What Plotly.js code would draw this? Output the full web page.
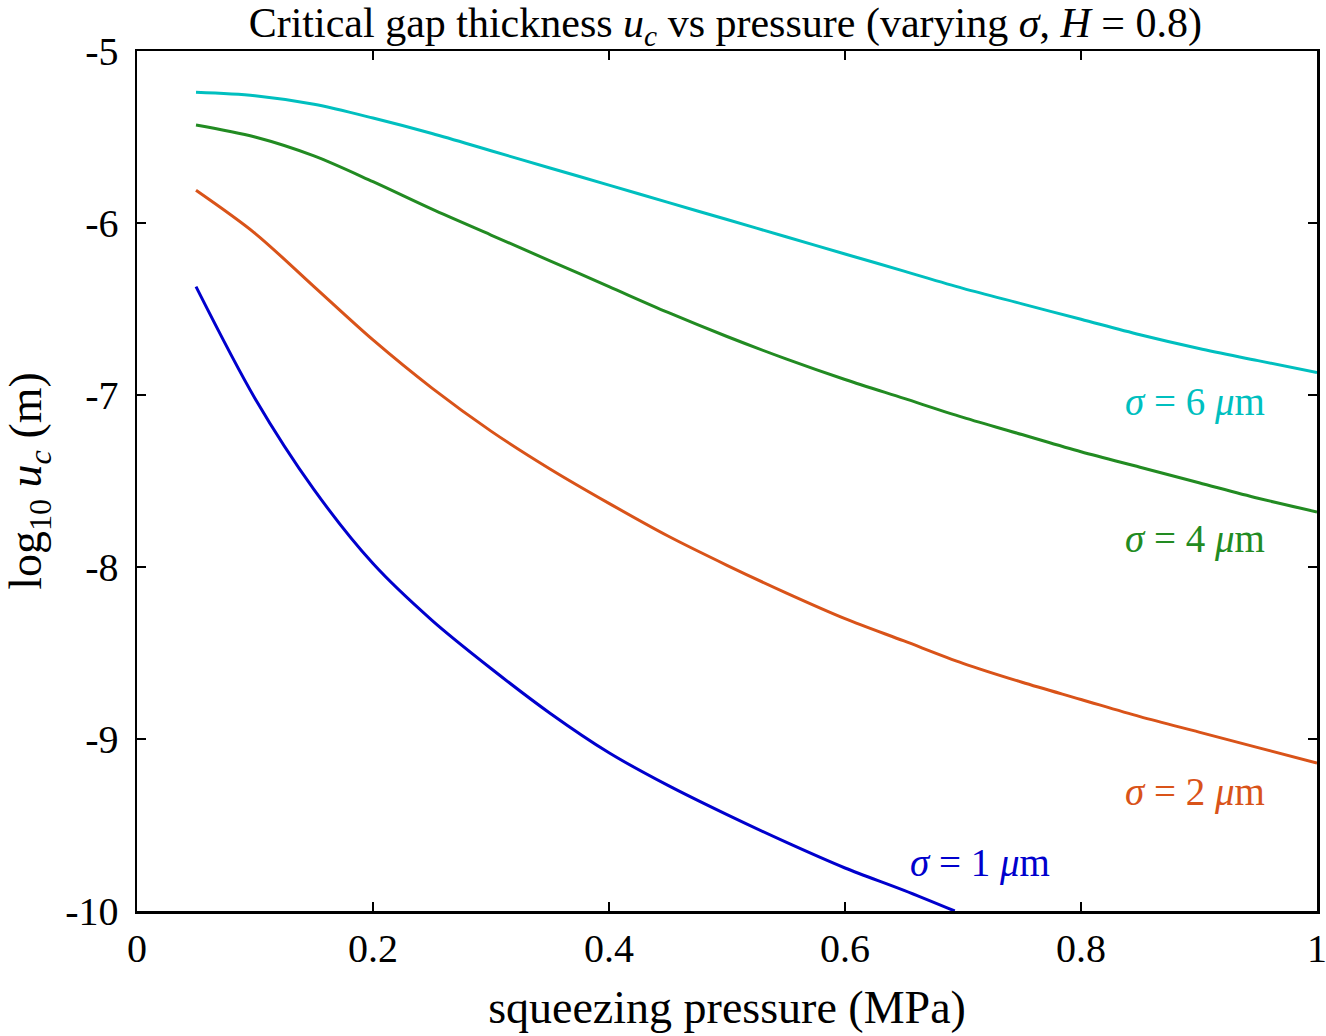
<!DOCTYPE html>
<html>
<head>
<meta charset="utf-8">
<script src="https://cdn.plot.ly/plotly-3.0.1.min.js"></script>
<style>html,body{margin:0;padding:0;background:#fff;}#chart{width:1326px;height:1036px;}</style>
</head>
<body>
<div id="chart"></div>
<script>
// squeezing pressure (MPa)
const pressure = [0.05, 0.1, 0.15, 0.2, 0.25, 0.3, 0.35, 0.4, 0.45, 0.5, 0.55, 0.6, 0.65, 0.7, 0.75, 0.8, 0.85, 0.9, 0.95, 1.0];
const pressureS1 = [0.05, 0.1, 0.15, 0.2, 0.25, 0.3, 0.35, 0.4, 0.45, 0.5, 0.55, 0.6, 0.65, 0.693];

// log10 u_c (m)
const sigma6 = [-5.24, -5.26, -5.31, -5.39, -5.48, -5.58, -5.68, -5.78, -5.88, -5.98, -6.08, -6.18, -6.28, -6.38, -6.47, -6.56, -6.65, -6.73, -6.80, -6.87];
const sigma4 = [-5.43, -5.50, -5.61, -5.76, -5.92, -6.07, -6.22, -6.37, -6.52, -6.66, -6.79, -6.91, -7.02, -7.13, -7.23, -7.33, -7.42, -7.51, -7.60, -7.68];
const sigma2 = [-5.81, -6.06, -6.37, -6.68, -6.96, -7.21, -7.43, -7.63, -7.82, -7.99, -8.15, -8.30, -8.43, -8.56, -8.67, -8.77, -8.87, -8.96, -9.05, -9.14];
const sigma1 = [-6.37, -7.02, -7.55, -7.98, -8.31, -8.59, -8.85, -9.08, -9.27, -9.44, -9.60, -9.75, -9.88, -10.0];

const seriesLabels = ['<i>σ</i> = 6 <i>μ</i>m', '<i>σ</i> = 4 <i>μ</i>m', '<i>σ</i> = 2 <i>μ</i>m', '<i>σ</i> = 1 <i>μ</i>m'];
const colors = ['#00bfbf', '#228b22', '#d95319', '#0000cd'];

const xTickVals = [0, 0.2, 0.4, 0.6, 0.8, 1];
const xTickText = ['0', '0.2', '0.4', '0.6', '0.8', '1'];
const yTickVals = [-5, -6, -7, -8, -9, -10];
const yTickText = ['-5', '-6', '-7', '-8', '-9', '-10'];

const font = 'Liberation Serif, Times New Roman, serif';

const ys = [sigma6, sigma4, sigma2, sigma1];
const xs = [pressure, pressure, pressure, pressureS1];
const traces = ys.map((y, i) => ({
  x: xs[i], y: y, type: 'scatter', mode: 'lines',
  line: {color: colors[i], width: 3, shape: 'spline', smoothing: 0.9},
  showlegend: false, hoverinfo: 'skip'
}));

const labelPos = [
  {x: 0.958, y: -7.04}, {x: 0.958, y: -7.84}, {x: 0.958, y: -9.31}, {x: 0.775, y: -9.72}
];
const annotations = seriesLabels.map((t, i) => ({
  text: t, x: labelPos[i].x, y: labelPos[i].y, xref: 'x', yref: 'y',
  xanchor: 'right', yanchor: 'middle', showarrow: false,
  font: {family: font, size: 39, color: colors[i]}
}));

const axisCommon = {
  showline: true, linecolor: '#000', linewidth: 2.5, mirror: 'ticks',
  ticks: 'inside', ticklen: 9, tickwidth: 2.5, tickcolor: '#000',
  showgrid: false, zeroline: false, ticklabeloverflow: 'allow',
  tickfont: {family: font, size: 40, color: '#000'}
};

const layout = {
  width: 1326, height: 1036,
  margin: {l: 137, r: 9, t: 51, b: 125},
  paper_bgcolor: '#fff', plot_bgcolor: '#fff',
  title: {
    text: 'Critical gap thickness <i>u</i><sub><i>c</i></sub> vs pressure (varying <i>σ</i>, <i>H</i> = 0.8)',
    font: {family: font, size: 42, color: '#000'},
    x: 0.547, xanchor: 'center', y: 1 - 22/1036, yanchor: 'middle', yref: 'container'
  },
  xaxis: Object.assign({}, axisCommon, {
    range: [0, 1], tickvals: xTickVals, ticktext: xTickText, ticklabelstandoff: 0,
    title: {text: 'squeezing pressure (MPa)', font: {family: font, size: 46, color: '#000'}, standoff: 22}
  }),
  yaxis: Object.assign({}, axisCommon, {
    range: [-10, -5], tickvals: yTickVals, ticktext: yTickText, ticklabelstandoff: 8,
    title: {text: 'log<sub>10</sub> <i>u<sub>c</sub></i> (m)', font: {family: font, size: 46, color: '#000'}, standoff: 12}
  }),
  annotations: annotations
};

Plotly.newPlot('chart', traces, layout, {displayModeBar: false, staticPlot: true});
</script>
</body>
</html>
